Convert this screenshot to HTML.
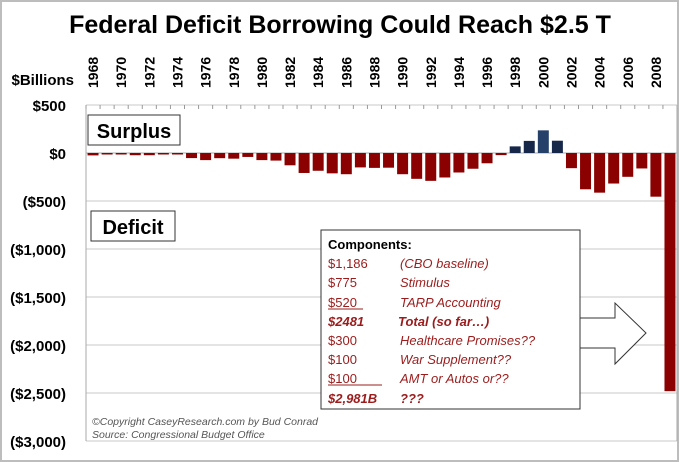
<!DOCTYPE html>
<html><head><meta charset="utf-8"><style>
body{margin:0;background:#fff}
svg{display:block;font-family:"Liberation Sans",sans-serif}
</style></head><body>
<svg width="679" height="462" viewBox="0 0 679 462">
<rect x="1" y="1" width="677" height="460" fill="#fff" stroke="#bdbdbd" stroke-width="2"/>
<text x="340" y="33" text-anchor="middle" font-size="25" font-weight="bold" fill="#000">Federal Deficit Borrowing Could Reach $2.5 T</text>
<text x="74" y="85" text-anchor="end" font-size="15" font-weight="bold">$Billions</text>
<g id="grid"></g>
<g id="bars"></g>
<g id="ticks"></g>
<rect x="88" y="115" width="92" height="30" fill="#fff" stroke="#333"/>
<text x="134" y="138" text-anchor="middle" font-size="20" font-weight="bold">Surplus</text>
<rect x="91" y="211" width="84" height="30" fill="#fff" stroke="#333"/>
<text x="133" y="234" text-anchor="middle" font-size="20" font-weight="bold">Deficit</text>
<rect x="321" y="230" width="259" height="179" fill="#fff" stroke="#333"/>
<g font-size="13" fill="#9b1c1c">
<text x="328" y="249" fill="#000" font-weight="bold">Components:</text>
<text x="328" y="268">$1,186</text><text x="400" y="268" font-style="italic">(CBO baseline)</text>
<text x="328" y="287">$775</text><text x="400" y="287" font-style="italic">Stimulus</text>
<text x="328" y="307">$520</text><line x1="328" y1="309" x2="363" y2="309" stroke="#9b1c1c"/><text x="400" y="307" font-style="italic">TARP Accounting</text>
<text x="328" y="326" font-weight="bold" font-style="italic">$2481</text><text x="398" y="326" font-weight="bold" font-style="italic">Total (so far…)</text>
<text x="328" y="345">$300</text><text x="400" y="345" font-style="italic">Healthcare Promises??</text>
<text x="328" y="364">$100</text><text x="400" y="364" font-style="italic">War Supplement??</text>
<text x="328" y="383">$100</text><line x1="328" y1="385" x2="382" y2="385" stroke="#9b1c1c"/><text x="400" y="383" font-style="italic">AMT or Autos or??</text>
<text x="328" y="403" font-weight="bold" font-style="italic">$2,981B</text><text x="400" y="403" font-weight="bold" font-style="italic">???</text>
</g>
<polygon points="580,318 615,318 615,303 646,333 615,364 615,348 580,348" fill="#fff" stroke="#333"/>
<text x="92" y="425" font-size="10.5" font-style="italic" fill="#555">©Copyright CaseyResearch.com by  Bud Conrad</text>
<text x="92" y="438" font-size="10.5" font-style="italic" fill="#555">Source: Congressional Budget Office</text>
<script>
const years=[1968,1969,1970,1971,1972,1973,1974,1975,1976,1977,1978,1979,1980,1981,1982,1983,1984,1985,1986,1987,1988,1989,1990,1991,1992,1993,1994,1995,1996,1997,1998,1999,2000,2001,2002,2003,2004,2005,2006,2007,2008,2009];
const values=[-25,-5,-3,-23,-23,-15,-6,-53,-74,-54,-59,-41,-74,-79,-128,-208,-185,-212,-221,-150,-155,-153,-221,-269,-290,-255,-203,-164,-107,-22,69,126,236,128,-158,-378,-413,-318,-248,-161,-455,-2481];
const yTicks=[500,0,-500,-1000,-1500,-2000,-2500,-3000];
const yLabels=["$500","$0","($500)","($1,000)","($1,500)","($2,000)","($2,500)","($3,000)"];
const NS="http://www.w3.org/2000/svg";
const L=86,R=677,Y0=153,K=0.096;
const step=(R-L)/years.length;
const y=v=>Y0-v*K;
const xc=i=>L+(i+0.5)*step;
function mk(t,a,p){const e=document.createElementNS(NS,t);for(const k in a)e.setAttribute(k,a[k]);p.appendChild(e);return e;}
const g=document.getElementById('grid'),b=document.getElementById('bars'),tk=document.getElementById('ticks');
yTicks.forEach((v,i)=>{
 const ln=mk('line',{x1:L,x2:R,y1:y(v),y2:y(v),stroke:v===0?'#aaa':'#c8c8c8'},g);
 
 
 const t=mk('text',{x:66,y:y(v)+6,'text-anchor':'end','font-size':15,'font-weight':'bold'},g);
 t.textContent=yLabels[i];
 
 
});
mk('line',{x1:L,x2:L,y1:y(500),y2:y(-3000),stroke:'#aaa'},g);
mk('line',{x1:R,x2:R,y1:y(500),y2:y(-3000),stroke:'#aaa'},g);
years.forEach((yr,i)=>{
 const v=values[i];
 const pos=v>0;
 const r=mk('rect',{x:xc(i)-step*0.39,width:step*0.78,y:pos?y(v):Y0,height:Math.max(1.5,Math.abs(v)*K),fill:pos?(yr===2000?'#25416a':'#16274a'):'#8b0000'},b);
 
 
 mk('line',{x1:L+i*step,x2:L+i*step,y1:y(500),y2:y(500)+4,stroke:'#999'},tk);
 if(i%2===0){
  const t=mk('text',{transform:`translate(${xc(i)+5},88) rotate(-90)`,'font-size':14,'font-weight':'bold'},tk);
  t.textContent=yr;
  
  
 }
});
</script>
</svg>
</body></html>
